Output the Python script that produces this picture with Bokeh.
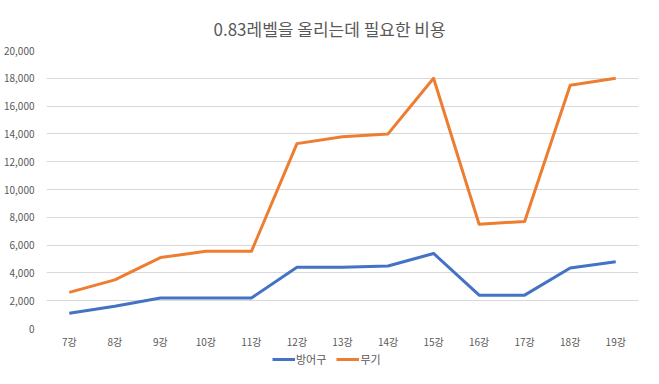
from bokeh.plotting import figure
from bokeh.layouts import column
from bokeh.models import Range1d, FixedTicker, NumeralTickFormatter, Legend, LegendItem, ColumnDataSource
from bokeh.embed import file_html
from bokeh.resources import INLINE

categories = ["7강", "8강", "9강", "10강", "11강", "12강", "13강", "14강", "15강", "16강", "17강", "18강", "19강"]
armor = [1100, 1600, 2200, 2200, 2200, 4400, 4400, 4500, 5400, 2400, 2400, 4350, 4800]
weapon = [2600, 3500, 5100, 5550, 5550, 13300, 13800, 14000, 18000, 7500, 7700, 17500, 18000]
y_ticks = list(range(0, 20001, 2000))

FONT = "Noto Sans CJK KR"
GRAY = "#595959"
BLUE = "#4472C4"
ORANGE = "#ED7D31"

src = ColumnDataSource(dict(cat=categories, armor=armor, weapon=weapon))

p = figure(width=655, height=351, x_range=categories, y_range=Range1d(0, 20000),
           output_backend="svg", toolbar_location=None,
           title="0.83레벨을 올리는데 필요한 비용")
p.min_border_left = 43
p.min_border_right = 17
p.min_border_top = 50
p.min_border_bottom = 23
p.background_fill_color = "white"
p.border_fill_color = "white"
p.outline_line_color = None

p.title.align = "left"
p.title.offset = 167
p.title.text_font = FONT
p.title.text_font_size = "17px"
p.title.text_font_style = "normal"
p.title.text_color = GRAY
p.title.standoff = 19

p.xgrid.grid_line_color = None
p.ygrid.grid_line_color = "#D9D9D9"
p.ygrid.grid_line_width = 1
p.yaxis.ticker = FixedTicker(ticks=y_ticks)
p.yaxis.formatter = NumeralTickFormatter(format="0,0")

for ax in (p.xaxis, p.yaxis):
    ax.axis_line_color = None
    ax.major_tick_line_color = None
    ax.minor_tick_line_color = None
    ax.major_tick_out = 0
    ax.major_tick_in = 0
    ax.major_label_text_font = FONT
    ax.major_label_text_font_size = "10px"
    ax.major_label_text_color = GRAY
p.yaxis.major_label_standoff = 12
p.xaxis.major_label_standoff = 5

p.line("cat", "armor", source=src, line_color=BLUE, line_width=3, line_join="round")
p.line("cat", "weapon", source=src, line_color=ORANGE, line_width=3, line_join="round")

# legend strip below the chart
lg = figure(width=655, height=16, x_range=categories, y_range=Range1d(-1e7, -1e7 + 1),
            output_backend="svg", toolbar_location=None)
lg.min_border_left = 0
lg.min_border_right = 0
lg.min_border_top = 0
lg.min_border_bottom = 0
lg.axis.visible = False
lg.grid.visible = False
lg.outline_line_color = None
lg.background_fill_color = "white"
lg.border_fill_color = "white"
d1 = lg.line("cat", "armor", source=src, line_color=BLUE, line_width=3)
d2 = lg.line("cat", "weapon", source=src, line_color=ORANGE, line_width=3)

legend = Legend(items=[LegendItem(label="방어구", renderers=[d1]), LegendItem(label="무기", renderers=[d2])],
                orientation="horizontal", location=(226, 0))
legend.label_text_font = FONT
legend.label_text_font_size = "11px"
legend.label_text_color = GRAY
legend.padding = 0
legend.margin = 0
legend.spacing = 10
legend.label_standoff = 1
legend.glyph_width = 23
legend.glyph_height = 12
legend.label_height = 16
legend.border_line_color = None
legend.background_fill_alpha = 0
lg.add_layout(legend)

layout = column(p, lg, spacing=0)
open("out.html", "w").write(file_html(layout, INLINE))
